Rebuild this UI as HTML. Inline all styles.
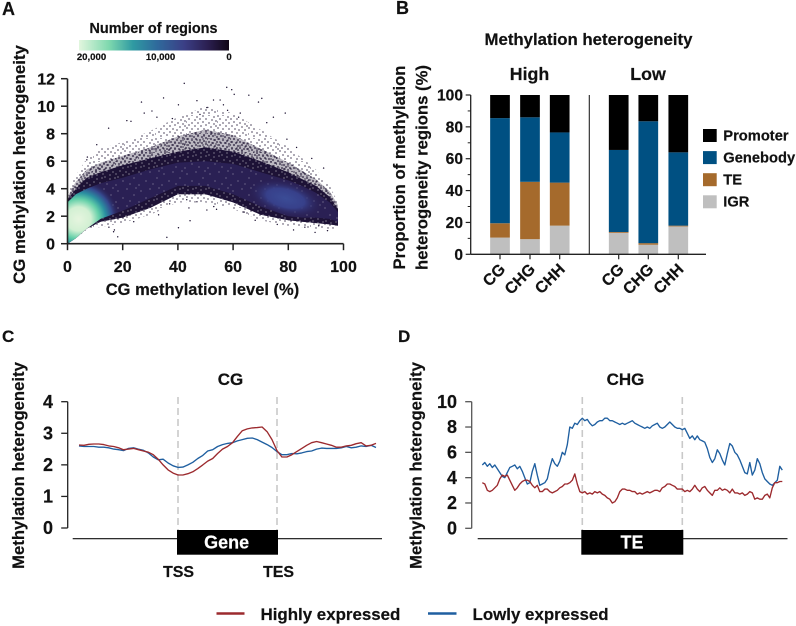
<!DOCTYPE html>
<html lang="en">
<head>
<meta charset="utf-8">
<title>Methylation heterogeneity figure</title>
<style>
html,body{margin:0;padding:0;background:#fff;}
svg{display:block;filter:blur(.3px);}
text{font-family:"Liberation Sans",sans-serif;font-weight:700;fill:#111;stroke:#111;stroke-width:.2;}
</style>
</head>
<body>
<svg id="fig" width="796" height="626" viewBox="0 0 796 626" xmlns="http://www.w3.org/2000/svg">
<defs>
<linearGradient id="cbar" x1="0" x2="1" y1="0" y2="0">
<stop offset="0" stop-color="#e2f6de"/><stop offset=".2" stop-color="#7ed8ae"/><stop offset=".36" stop-color="#2f9aa2"/><stop offset=".52" stop-color="#2f6a9c"/><stop offset=".7" stop-color="#3b3f86"/><stop offset=".86" stop-color="#2b1f50"/><stop offset="1" stop-color="#100616"/>
</linearGradient>
<radialGradient id="hotLeft">
<stop offset="0" stop-color="#e6f5df"/><stop offset=".3" stop-color="#d2f0d3"/><stop offset=".5" stop-color="#62cfa8"/><stop offset=".66" stop-color="#2a8fa0"/><stop offset=".82" stop-color="#35498f"/><stop offset="1" stop-color="#2a2054" stop-opacity="0"/>
</radialGradient>
<radialGradient id="hotRight">
<stop offset="0" stop-color="#3b4c96"/><stop offset=".5" stop-color="#37408a"/><stop offset="1" stop-color="#2a2054" stop-opacity="0"/>
</radialGradient>
<pattern id="sparseDots" width="31" height="23" patternUnits="userSpaceOnUse">
<path d="M1 1h0M6 0h0M11 2h0M17 1h0M23 0h0M28 2h0M3 4h0M9 5h0M14 4h0M20 4h0M26 5h0M30 6h0M0 7h0M6 8h0M12 8h0M17 7h0M23 8h0M28 9h0M3 10h0M9 11h0M15 11h0M20 10h0M25 12h0M30 11h0M1 13h0M6 14h0M12 14h0M18 14h0M22 15h0M28 15h0M4 17h0M9 18h0M15 17h0M20 18h0M26 18h0M0 19h0M6 21h0M12 20h0M18 21h0M23 21h0M29 20h0" fill="none" stroke="#1b1030" stroke-width="1.15" stroke-linecap="square"/>
</pattern>
<pattern id="midDots" width="23" height="19" patternUnits="userSpaceOnUse">
<rect width="23" height="19" fill="#1b1030" fill-opacity=".3"/>
<path d="M0 0h0M4 1h0M8 0h0M12 1h0M16 0h0M20 2h0M2 3h0M6 3h0M10 4h0M14 3h0M18 4h0M22 5h0M0 6h0M4 6h0M8 7h0M12 6h0M16 7h0M20 8h0M2 9h0M6 10h0M10 9h0M14 10h0M18 10h0M22 11h0M0 12h0M4 12h0M8 13h0M12 12h0M16 13h0M20 14h0M2 15h0M6 16h0M10 15h0M14 16h0M18 16h0M22 17h0M4 18h0M12 18h0M8 17h0" fill="none" stroke="#1b1030" stroke-width="1.4" stroke-linecap="square"/>
</pattern>
<pattern id="strongSpeck" width="13" height="11" patternUnits="userSpaceOnUse">
<path d="M1 1h0M6 3h0M11 2h0M3 6h0M9 7h0M12 9h0M6 10h0" fill="none" stroke="#fff" stroke-opacity=".85" stroke-width=".9" stroke-linecap="square"/>
</pattern>
<pattern id="whiteSpeck" width="23" height="17" patternUnits="userSpaceOnUse">
<path d="M3 4h0M12 2h0M19 8h0M8 11h0M15 14h0M21 1h0M1 15h0" fill="none" stroke="#fff" stroke-opacity=".6" stroke-width=".9" stroke-linecap="square"/>
</pattern>
<clipPath id="coreClip"><path id="coreClipPath" d=""/></clipPath>
</defs>

<!-- Panel A static text -->
<text x="2" y="15" font-size="18">A</text>
<text x="153.500" y="33" font-size="14.4" text-anchor="middle">Number of regions</text>
<rect x="79" y="40" width="150" height="10.500" fill="url(#cbar)"/>
<text x="91.500" y="60" font-size="9.6" text-anchor="middle">20,000</text>
<text x="160.500" y="60" font-size="9.6" text-anchor="middle">10,000</text>
<text x="229" y="60" font-size="9.6" text-anchor="middle">0</text>
<g id="panelA"></g>
<text transform="translate(25,164.500) rotate(-90)" font-size="16.8" text-anchor="middle">CG methylation heterogeneity</text>
<text x="202.500" y="295" font-size="16.5" text-anchor="middle">CG methylation level (%)</text>

<!-- Panel B static text -->
<text x="396" y="14" font-size="18">B</text>
<text x="588.500" y="45" font-size="16.8" text-anchor="middle">Methylation heterogeneity</text>
<text x="529.500" y="80" font-size="17.8" text-anchor="middle">High</text>
<text x="648" y="80" font-size="17.8" text-anchor="middle">Low</text>
<text transform="translate(405,167.500) rotate(-90)" font-size="16.7" text-anchor="middle">Proportion of methylation</text>
<text transform="translate(427.500,167.500) rotate(-90)" font-size="16.7" text-anchor="middle">heterogeneity regions (%)</text>
<g id="panelB"></g>

<!-- Panel C static text -->
<text x="2" y="342" font-size="17">C</text>
<text x="230.500" y="385" font-size="17" text-anchor="middle">CG</text>
<text transform="translate(24,465.500) rotate(-90)" font-size="16.7" text-anchor="middle">Methylation heterogeneity</text>
<g id="panelC"></g>
<text x="178.500" y="577" font-size="16" text-anchor="middle">TSS</text>
<text x="278.500" y="577" font-size="16" text-anchor="middle">TES</text>

<!-- Panel D static text -->
<text x="398" y="342" font-size="17">D</text>
<text x="625.500" y="385" font-size="17" text-anchor="middle">CHG</text>
<text transform="translate(421.500,465.500) rotate(-90)" font-size="16.7" text-anchor="middle">Methylation heterogeneity</text>
<g id="panelD"></g>

<!-- Shared legend -->
<line x1="216.500" x2="244.500" y1="613.500" y2="613.500" stroke="#9c2a2e" stroke-width="2.4"/>
<text x="260.500" y="620" font-size="16.9">Highly expressed</text>
<line x1="428" x2="456.500" y1="613.500" y2="613.500" stroke="#1f5fa0" stroke-width="2.4"/>
<text x="472.500" y="620" font-size="16.9">Lowly expressed</text>
</svg>

<script>
// ---------- Panel A data ----------
const densityX = [0, 3, 7, 12, 20, 30, 40, 50, 60, 70, 80, 85, 90, 95, 98];
const sparseTop = [3.6, 5.0, 6.2, 6.9, 7.4, 8.2, 9.2, 10.0, 9.5, 8.3, 7.0, 6.2, 5.4, 4.2, 3.0];
const midTop = [3.4, 4.5, 5.4, 5.9, 6.4, 7.0, 7.8, 8.3, 7.9, 6.9, 5.9, 5.3, 4.7, 3.8, 2.8];
const denseTop = [3.2, 4.0, 4.8, 5.2, 5.7, 6.2, 6.7, 7.0, 6.7, 6.0, 5.2, 4.7, 4.2, 3.4, 2.5];
const coreTop = [3.0, 3.6, 4.0, 4.4, 4.8, 5.4, 5.9, 6.0, 5.8, 5.2, 4.6, 4.2, 3.7, 3.0, 2.3];
const coreBottom = [0, 0.4, 1.1, 1.8, 2.4, 3.3, 4.2, 4.2, 3.6, 2.7, 2.0, 1.9, 1.9, 1.8, 1.6];
const denseBottom = [0, 0.4, 1.1, 1.6, 1.9, 2.6, 3.6, 3.6, 3.0, 2.1, 1.7, 1.6, 1.5, 1.4, 1.3];
const sparseBottom = [0, 0.4, 1.0, 1.2, 1.5, 2.1, 3.0, 3.0, 2.5, 1.7, 1.3, 1.2, 1.1, 1.1, 1.1];
const hotspotX = [4, 79];
const hotspotY = [1.8, 3.3];
const hotspotXSpread = [15, 14];
const hotspotYSpread = [2.9, 1.3];
const outlierX = [42.3,57.7,59.5,60.4,65.7,70.4,69.2,34.8,26.8,40.2,46.9,78.9,74.6,27.8,30.6,21.5,23,14.9,10.6,36,18.2,40.2,44.4,81.9,89.7,94.2,16.7,7,7.2,92.8,88.5,83,79.5,72.2,52.9,55.3,48,50.5,56.5,62.6,32.4,50.5,54,46.9,43.2,15,17,24,33,37,44,53,64,68,76,86,91,38,58,62];
const outlierY = [11.66,11.37,11.2,10.86,10.8,10.57,10.3,10.6,10.3,10.1,10.4,9.5,9.2,9.5,9.65,8.95,8.9,8.4,7.2,0.46,0.5,1.16,1.67,1,0.82,0.95,0.87,6.1,6.3,5.5,6.2,7,7.6,8.8,10.45,10.45,9.4,9.9,10.1,9.5,9.2,2.45,2.5,3.05,3.2,1.2,1.0,1.6,2.1,2.9,2.6,2.7,2.3,1.7,1.4,1.2,1.3,9.1,9.7,9.2];
const panelAXTicks = [0, 20, 40, 60, 80, 100];
const panelAYTicks = [0, 2, 4, 6, 8, 10, 12];

// ---------- Panel B data ----------
const barCategories = ['CG', 'CHG', 'CHH', 'CG', 'CHG', 'CHH'];
const barGroups = ['High', 'High', 'High', 'Low', 'Low', 'Low'];
const igrValues = [10.5, 9.5, 18, 13.5, 6, 17.5];
const teValues = [9, 36, 27, 0.5, 1, 0.5];
const genebodyValues = [66, 40.5, 31.5, 51.5, 76.5, 46];
const promoterValues = [14.5, 14, 23.5, 34.5, 16.5, 36];
const legendNames = ['Promoter', 'Genebody', 'TE', 'IGR'];
const panelBYTicks = [0, 20, 40, 60, 80, 100];
const panelBMinorTicks = [10, 30, 50, 70, 90];

// ---------- Panel C data (61 evenly spaced bins, upstream to downstream) ----------
const geneHigh = [2.63,2.62,2.65,2.66,2.66,2.64,2.6,2.58,2.54,2.48,2.5,2.52,2.48,2.44,2.4,2.32,2.18,2.0,1.84,1.74,1.68,1.68,1.72,1.78,1.88,2.0,2.12,2.2,2.36,2.5,2.58,2.7,2.9,3.08,3.14,3.17,3.18,3.2,3.05,2.8,2.45,2.25,2.25,2.32,2.42,2.52,2.62,2.7,2.74,2.7,2.66,2.62,2.56,2.56,2.6,2.62,2.67,2.7,2.6,2.62,2.68];
const geneLow = [2.6,2.58,2.58,2.58,2.56,2.56,2.54,2.5,2.48,2.45,2.52,2.54,2.5,2.46,2.38,2.25,2.16,2.18,2.06,1.97,1.92,1.93,2.0,2.08,2.2,2.3,2.44,2.48,2.58,2.64,2.68,2.7,2.76,2.8,2.84,2.85,2.8,2.72,2.64,2.55,2.42,2.32,2.32,2.36,2.35,2.38,2.42,2.44,2.5,2.53,2.52,2.52,2.52,2.54,2.58,2.54,2.56,2.6,2.58,2.62,2.55];
const panelCYTicks = [0, 1, 2, 3, 4];

// ---------- Panel D data (121 evenly spaced bins, upstream to downstream) ----------
const teLow = [5.0,5.2,4.9,5.1,4.8,5.0,4.7,4.4,4.1,4.0,
4.4,4.8,4.9,5.0,4.7,4.9,4.5,4.0,3.5,3.6,
4.5,5.1,4.2,3.4,3.5,3.6,3.9,4.8,5.5,5.1,
4.9,5.3,6.0,5.8,6.6,8.0,7.9,8.3,8.2,8.5,
8.7,8.5,8.6,8.3,8.1,8.2,8.4,8.5,8.5,8.7,
8.7,8.5,8.5,8.4,8.3,8.2,8.3,8.2,8.3,8.4,
8.5,8.3,8.2,8.1,8.0,7.9,8.0,7.9,8.1,8.2,
8.3,8.0,7.9,8.0,8.2,8.4,8.2,8.0,7.9,7.9,
7.8,7.9,7.5,7.1,7.3,7.0,7.3,7.0,6.9,6.8,
6.3,5.6,5.2,5.5,6.2,5.9,5.4,5.0,5.9,6.7,
6.5,6.0,5.8,5.4,4.9,4.4,4.3,5.2,4.2,4.6,
5.5,5.1,4.4,3.9,3.7,3.5,3.4,3.6,3.8,4.9,
4.6];
const teHigh = [3.6,3.5,3.0,2.9,3.0,3.2,3.4,3.9,4.2,4.1,
4.2,3.8,3.4,3.0,3.2,3.5,3.7,3.8,3.8,3.7,
3.4,3.2,3.4,2.9,2.9,3.1,3.1,2.9,2.8,2.9,
3.0,3.2,3.3,3.5,3.5,3.6,3.8,4.3,3.5,2.9,
2.8,2.9,2.7,2.8,2.7,2.9,2.8,2.9,2.7,2.6,
2.4,2.3,2.0,2.1,2.4,2.9,3.1,3.1,3.0,3.0,
2.9,2.9,2.7,2.8,2.7,2.8,2.9,2.8,2.9,3.0,
3.0,2.9,3.2,3.3,3.5,3.5,3.4,3.3,3.1,3.1,
3.1,2.9,3.0,2.9,3.1,3.4,3.1,2.9,3.2,3.3,
3.0,2.8,2.6,3.0,3.0,3.2,3.0,3.1,3.0,2.8,
3.1,2.8,2.8,2.7,2.8,2.6,2.7,2.9,2.8,2.3,
2.4,2.3,2.3,2.6,2.7,2.4,3.2,3.6,3.6,3.7,
3.7];
const panelDYTicks = [0, 2, 4, 6, 8, 10];

// ---------- helpers ----------
const NS = 'http://www.w3.org/2000/svg';
function make(tag, attrs, parent) {
  const node = document.createElementNS(NS, tag);
  for (const k in attrs) node.setAttribute(k, attrs[k]);
  parent.appendChild(node);
  return node;
}
function scale(d0, d1, r0, r1) {
  return v => r0 + (v - d0) * (r1 - r0) / (d1 - d0);
}
const AXIS = '#222';

// ---------- Panel A ----------
(function () {
  const g = document.getElementById('panelA');
  const x = scale(0, 100, 67.5, 343.5);
  const y = scale(0, 12, 243.7, 78.7);
  function band(top, bottom) {
    let d = '';
    densityX.forEach((v, i) => { d += (i ? 'L' : 'M') + x(v).toFixed(1) + ' ' + y(top[i]).toFixed(1); });
    for (let i = densityX.length - 1; i >= 0; i--) d += 'L' + x(densityX[i]).toFixed(1) + ' ' + y(bottom[i]).toFixed(1);
    return d + 'Z';
  }
  const sparse = make('path', { d: band(sparseTop, sparseBottom), fill: 'url(#sparseDots)' }, g);
  
  
  const mid = make('path', { d: band(midTop, denseBottom), fill: 'url(#midDots)' }, g);
  
  
  const dense = make('path', { d: band(denseTop, denseBottom), fill: '#1d1236' }, g);
  
  
  const flecks = make('path', { d: band(denseTop, denseBottom), fill: 'url(#strongSpeck)' }, g);
  
  
  const coreD = band(coreTop, coreBottom);
  document.getElementById('coreClipPath').setAttribute('d', coreD);
  const core = make('path', { d: coreD, fill: '#2a2054' }, g);
  
  
  const speck = make('path', { d: coreD, fill: 'url(#whiteSpeck)' }, g);
  
  
  const hotWrap = make('g', { 'clip-path': 'url(#coreClip)' }, g);
  hotspotX.forEach((v, i) => {
    const h = make('ellipse', {
      cx: x(v), cy: y(hotspotY[i]),
      rx: x(hotspotXSpread[i]) - x(0), ry: y(0) - y(hotspotYSpread[i]),
      fill: i === 0 ? 'url(#hotLeft)' : 'url(#hotRight)',
      transform: i === 1 ? 'rotate(14 ' + x(v) + ' ' + y(hotspotY[i]) + ')' : ''
    }, hotWrap);
    
    
  });
  outlierX.forEach((v, i) => {
    const p = make('circle', { cx: x(v), cy: y(outlierY[i]), r: 0.7, fill: '#1b1030' }, g);
    
    
  });
  const yAxis = make('line', { x1: x(0), x2: x(0), y1: y(12), y2: y(0), stroke: AXIS, 'stroke-width': 1.6 }, g);
  
  
  const xAxis = make('line', { x1: x(0), x2: x(100), y1: y(0), y2: y(0), stroke: AXIS, 'stroke-width': 1.6 }, g);
  
  
  panelAYTicks.forEach(t => {
    const m = make('line', { x1: x(0) - 6.5, x2: x(0), y1: y(t), y2: y(t), stroke: AXIS, 'stroke-width': 1.5 }, g);
    
    
    const l = make('text', { x: 55, y: y(t) + 5.7, 'font-size': 16, 'text-anchor': 'end' }, g);
    l.textContent = t;
    
    
  });
  panelAXTicks.forEach(t => {
    const m = make('line', { x1: x(t), x2: x(t), y1: y(0), y2: y(0) + 6.5, stroke: AXIS, 'stroke-width': 1.5 }, g);
    
    
    const l = make('text', { x: x(t), y: 272, 'font-size': 16, 'text-anchor': 'middle' }, g);
    l.textContent = t;
    
    
  });
})();

// ---------- Panel B ----------
(function () {
  const g = document.getElementById('panelB');
  const y = scale(0, 100, 254.3, 95);
  const centers = [500, 530, 559.7, 618.7, 648.3, 678.3];
  const barWidth = 19.7;
  const stack = [igrValues, teValues, genebodyValues, promoterValues];
  const colors = ['#bfbfbf', '#a56a2c', '#005082', '#000000'];
  const stackNames = ['igr', 'te', 'genebody', 'promoter'];
  barCategories.forEach((c, i) => {
    let base = 0;
    stack.forEach((series, s) => {
      const v = series[i];
      const r = make('rect', { x: centers[i] - barWidth / 2, y: y(base + v), width: barWidth, height: y(base) - y(base + v), fill: colors[s] }, g);
      
      
      base += v;
    });
    const tick = make('line', { x1: centers[i], x2: centers[i], y1: y(0), y2: y(0) + 5, stroke: AXIS, 'stroke-width': 1.2 }, g);
    
    
    const l = make('text', { transform: 'translate(' + (centers[i] + 2) + ',266) rotate(-45)', 'font-size': 16, 'text-anchor': 'end', x: 0, y: 6 }, g);
    l.textContent = c;
    
    
  });
  const divider = make('line', { x1: 589.3, x2: 589.3, y1: y(100), y2: y(0), stroke: AXIS, 'stroke-width': 1.1 }, g);
  
  
  const yAxis = make('line', { x1: 470.7, x2: 470.7, y1: y(100), y2: y(0), stroke: AXIS, 'stroke-width': 1.3 }, g);
  
  
  const xAxis = make('line', { x1: 470.7, x2: 706, y1: y(0), y2: y(0), stroke: AXIS, 'stroke-width': 1.3 }, g);
  
  
  panelBYTicks.forEach(t => {
    const m = make('line', { x1: 465.7, x2: 470.7, y1: y(t), y2: y(t), stroke: AXIS, 'stroke-width': 1.2 }, g);
    
    
    const l = make('text', { x: 463, y: y(t) + 5.5, 'font-size': 15.6, 'text-anchor': 'end' }, g);
    l.textContent = t;
    
    
  });
  panelBMinorTicks.forEach(t => {
    const m = make('line', { x1: 467.7, x2: 470.7, y1: y(t), y2: y(t), stroke: AXIS, 'stroke-width': 1 }, g);
    
    
  });
  const legendColors = ['#000000', '#005082', '#a56a2c', '#bfbfbf'];
  legendNames.forEach((n, i) => {
    const top = 129 + i * 22.1;
    const s = make('rect', { x: 703, y: top, width: 13.7, height: 13, fill: legendColors[i] }, g);
    
    
    const l = make('text', { x: 723.3, y: top + 11.4, 'font-size': 14.7 }, g);
    l.textContent = n;
    
    
  });
})();

// ---------- Line panels ----------
function linePanel(opts) {
  const g = document.getElementById(opts.id);
  const x = scale(-1, 2, opts.x0, opts.x0 + 3 * opts.unit);
  const y = scale(0, opts.yMax, opts.y0, opts.yTop);
  const binX = (i, n) => -1 + 3 * i / (n - 1);
  const yAxis = make('line', { x1: opts.axisX, x2: opts.axisX, y1: y(opts.yMax), y2: y(0), stroke: opts.axisColor, 'stroke-width': 1.3 }, g);
  
  
  opts.ticks.forEach(t => {
    const m = make('line', { x1: opts.axisX - 6.5, x2: opts.axisX, y1: y(t), y2: y(t), stroke: opts.axisColor, 'stroke-width': 1.3 }, g);
    
    
    const l = make('text', { x: opts.labelX, y: y(t) + 6.2, 'font-size': 18, 'text-anchor': 'end' }, g);
    l.textContent = t;
    
    
  });
  [0, 1].forEach(b => {
    const d = make('line', { x1: x(b), x2: x(b), y1: 397, y2: 530, stroke: '#c9c9c9', 'stroke-width': 1.6, 'stroke-dasharray': '7 4' }, g);
    
    
  });
  const track = make('line', { x1: opts.trackX0, x2: opts.trackX1, y1: 538.7, y2: 538.7, stroke: '#111', 'stroke-width': 1.1 }, g);
  
  
  const box = make('rect', { x: x(0) - 1, y: 530, width: x(1) - x(0) + 2, height: 24.7, fill: '#000' }, g);
  
  
  const label = make('text', { x: opts.boxLabelX, y: 548.4, 'font-size': 18, 'text-anchor': 'middle', style: 'fill:#fff;stroke:#fff' }, g);
  label.textContent = opts.boxLabel;
  
  
  opts.series.forEach((s, k) => {
    const pts = s.map((v, i) => x(binX(i, s.length)).toFixed(1) + ',' + y(v).toFixed(1)).join(' ');
    const line = make('polyline', { points: pts, fill: 'none', stroke: opts.colors[k], 'stroke-width': 1.35, 'stroke-linejoin': 'round' }, g);
    
    
  });
}
linePanel({
  id: 'panelC', x0: 79, unit: 99, y0: 528, yTop: 401.7, yMax: 4, ticks: panelCYTicks,
  axisX: 67.7, labelX: 53, axisColor: '#222', trackX0: 72.7, trackX1: 382,
  boxLabel: 'Gene', boxLabelX: 226.7, series: [geneLow, geneHigh], colors: ['#1f5fa0', '#9c2a2e'], highIndex: 1
});
linePanel({
  id: 'panelD', x0: 482.3, unit: 100, y0: 528.3, yTop: 401.7, yMax: 10, ticks: panelDYTicks,
  axisX: 471.7, labelX: 457, axisColor: '#555', trackX0: 477.7, trackX1: 787.5,
  boxLabel: 'TE', boxLabelX: 632, series: [teLow, teHigh], colors: ['#1f5fa0', '#9c2a2e'], highIndex: 1
});
</script>
</body>
</html>
